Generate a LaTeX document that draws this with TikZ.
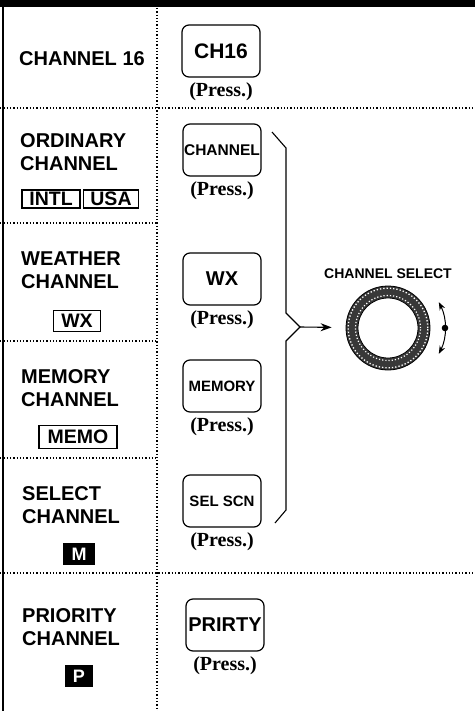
\documentclass[tikz,border=0pt]{standalone}
\usepackage{fontspec}
\setmainfont{Liberation Serif}
\setsansfont{Liberation Sans}
\usetikzlibrary{positioning,calc,arrows.meta}

\begin{document}
\begin{tikzpicture}[
			x=1pt, y=-1pt,
			>={Stealth[length=11pt,width=8pt]},
			grid line/.style={dotted, line width=1.3pt},
			mode label/.style={anchor=west, align=left, inner sep=0pt, font=\sffamily\bfseries\fontsize{20}{23}\selectfont},
			tag box/.style={draw, line width=1.2pt, inner sep=0pt, minimum height=18pt, font=\sffamily\bfseries\fontsize{19.5}{19.5}\selectfont},
			tag dark/.style={fill=black, text=white, inner sep=0pt, minimum height=22pt, font=\sffamily\bfseries\fontsize{18}{18}\selectfont},
			key/.style={draw, rounded corners=7pt, line width=1.2pt, minimum width=78pt, minimum height=52pt, inner sep=0pt},
			press/.style={font=\bfseries\fontsize{20}{20}\selectfont, inner sep=0pt}
			]
			\newcommand{\presskey}[4]{
				\node[key, font=\sffamily\bfseries\fontsize{#4}{#4}\selectfont] (#1) at (#2) {#3};
				\node[press, below=5pt of #1] (#1press) {(Press.)};
			}
			\useasboundingbox (0,0) rectangle (475,711);
			\fill (0,0) rectangle (475,7);
			\draw[line width=1.4pt] (3,7) -- (3,711);
			
			% grid
			\draw[grid line] (157,8) -- (157,711);
			\draw[grid line] (0,108) -- (475,108);
			\draw[grid line] (0,573) -- (475,573);
			\foreach \yy in {223,341,458}
				\draw[grid line] (0,\yy) -- (157,\yy);
			
			\node[mode label] (lblch16) at (19,59) {CHANNEL 16};
			\node[mode label] (lblord) at (20,152) {ORDINARY\\CHANNEL};
			\node[mode label] (lblwx) at (21,270) {WEATHER\\CHANNEL};
			\node[mode label] (lblmem) at (21,388) {MEMORY\\CHANNEL};
			\node[mode label] (lblsel) at (22,505) {SELECT\\CHANNEL};
			\node[mode label] (lblpri) at (22,627) {PRIORITY\\CHANNEL};
			
			\node[tag box, minimum width=58pt] (intl) at (51,199) {INTL};
			\node[tag box, minimum width=55pt] (usa) at (111,199) {USA};
			\node[tag box, minimum width=47pt, minimum height=21pt] (wxtag) at (77,321) {WX};
			\node[tag box, minimum width=78pt, minimum height=23pt] (memotag) at (78,437) {MEMO};
			\node[tag dark, minimum width=32pt] (mtag) at (79,554) {M};
			\node[tag dark, minimum width=28pt] (ptag) at (79,676) {P};
			
			\presskey{ch16}{221,51}{CH16}{21}
			\presskey{chan}{222,150}{CHANNEL}{15.5}
			\presskey{wx}{222,279}{WX}{20}
			\presskey{memory}{222,386}{MEMORY}{15}
			\presskey{selscn}{222,501}{SEL SCN}{15}
			\presskey{prirty}{225,625}{PRIRTY}{20}
			
			% knob
			\node[circle, minimum size=84pt, inner sep=0pt, fill=black!78, draw, line width=0.8pt] (knob) at (388,328) {};
			\fill[white] (knob.center) circle (30pt);
			\draw[white, dotted, line width=1.3pt] (knob.center) circle (39.8pt);
			\draw[white, dotted, line width=1.2pt] (knob.center) circle (32.5pt);
			\draw[line width=0.8pt] (knob.center) circle (30pt);
			\node[above=7pt of knob, inner sep=0pt, font=\sffamily\bfseries\fontsize{14}{14}\selectfont] (knoblbl) {CHANNEL SELECT};
			\draw[{Stealth[length=8pt,width=6pt]}-{Stealth[length=8pt,width=6pt]}, line width=1pt] ($(knob.center)+(27:57pt)$) arc[start angle=27, end angle=-27, radius=57pt];
			\fill ($(knob.center)+(0:57pt)$) circle (3.3pt);
			
			\coordinate (bracetip) at (300,327);
			\draw[line width=1.1pt] (272,132) -- (286,148) -- (286,313) -- (bracetip) -- (286,341) -- (286,510) -- (275,523);
			\draw[->, line width=1.1pt, shorten >=14pt] (bracetip) -- (knob);
		\end{tikzpicture}
\end{document}
